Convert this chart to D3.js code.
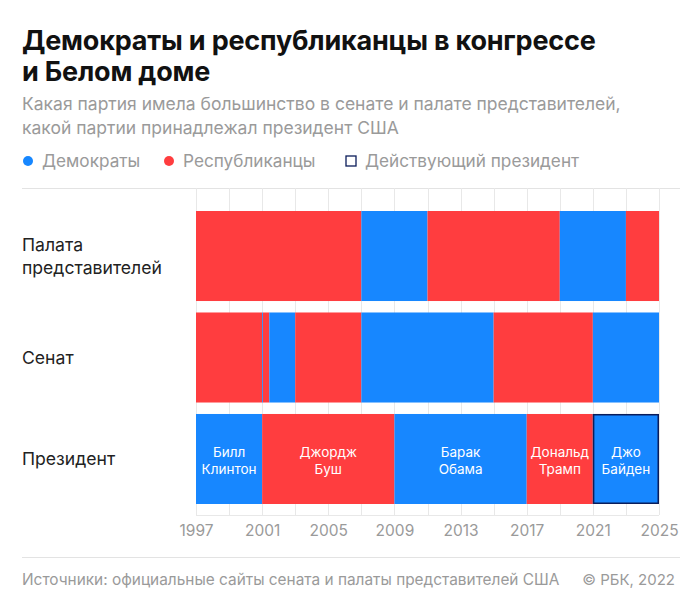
<!DOCTYPE html>
<html><head><meta charset="utf-8">
<script src="https://cdn.jsdelivr.net/npm/d3@7"></script>
<style>
body{margin:0;background:#fff;}
svg{display:block;font-family:Inter, "Noto Sans", sans-serif;}
</style></head>
<body><svg id="c" width="700" height="612"></svg>
<script>
const rows = ["Палата представителей", "Сенат", "Президент"];
const rowLabelLines = [["Палата", "представителей"], ["Сенат"], ["Президент"]];
const house = [
  {from:1997, to:2007, party:"R"},
  {from:2007, to:2011, party:"D"},
  {from:2011, to:2019, party:"R"},
  {from:2019, to:2023, party:"D"},
  {from:2023, to:2025, party:"R"}
];
const senate = [
  {from:1997, to:2001, party:"R"},
  {from:2001, to:2001.05, party:"D"},
  {from:2001.05, to:2001.43, party:"R"},
  {from:2001.43, to:2003, party:"D"},
  {from:2003, to:2007, party:"R"},
  {from:2007, to:2015, party:"D"},
  {from:2015, to:2021, party:"R"},
  {from:2021, to:2025, party:"D"}
];
const presidents = [
  {from:1997, to:2001, party:"D", name:["Билл","Клинтон"], current:false},
  {from:2001, to:2009, party:"R", name:["Джордж","Буш"], current:false},
  {from:2009, to:2017, party:"D", name:["Барак","Обама"], current:false},
  {from:2017, to:2021, party:"R", name:["Дональд","Трамп"], current:false},
  {from:2021, to:2025, party:"D", name:["Джо","Байден"], current:true}
];
const tickYears = [1997, 2001, 2005, 2009, 2013, 2017, 2021, 2025];
const gridYears = d3.range(1997, 2026, 2);
const legendItems = [
  {label:"Демократы", type:"D"},
  {label:"Республиканцы", type:"R"},
  {label:"Действующий президент", type:"current"}
];
const title = ["Демократы и республиканцы в конгрессе", "и Белом доме"];
const subtitle = ["Какая партия имела большинство в сенате и палате представителей,", "какой партии принадлежал президент США"];
const source = "Источники: официальные сайты сената и палаты представителей США";
const credit = "© РБК, 2022";

const colors = {D:"#1787FF", R:"#FF3D3F"};
const svg = d3.select("#c");
const grey = "#9a9a9a";

// Title
svg.append("text").attr("x",22).attr("y",50).attr("font-size",27).attr("font-weight",700)
  .attr("fill","#111").attr("letter-spacing","-0.2")
  .selectAll("tspan").data(title).join("tspan")
  .attr("x",22).attr("dy",(d,i)=>i?31:0).text(d=>d);
svg.append("text").attr("x",22).attr("y",110).attr("font-size",17.5)
  .attr("fill",grey)
  .selectAll("tspan").data(subtitle).join("tspan")
  .attr("x",22).attr("dy",(d,i)=>i?24:0).text(d=>d);

// Legend
const legX = [28, 169, 351];
const leg = svg.append("g");
legendItems.forEach((d,i)=>{
  const g = leg.append("g").attr("transform",`translate(${legX[i]},161)`);
  if(d.type==="current"){
    g.append("rect").attr("x",-5).attr("y",-5).attr("width",10).attr("height",10)
      .attr("fill","#fff").attr("stroke","#0b1d5a").attr("stroke-width",1.3);
  } else {
    g.append("circle").attr("r",5).attr("fill",colors[d.type]);
  }
  g.append("text").attr("x",14).attr("y",6).attr("font-size",17.2).attr("fill",grey).text(d.label);
});

// Scales
const x = d3.scaleLinear().domain([1997,2025]).range([196,659]);
const y = d3.scaleBand().domain(rows).range([211,504]).paddingInner(0.113).paddingOuter(0);

// top and bottom rules
svg.append("line").attr("x1",22).attr("x2",680).attr("y1",188.5).attr("y2",188.5).attr("stroke","#e3e3e3");
// grid
svg.append("g").selectAll("line").data(gridYears).join("line")
  .attr("x1",d=>Math.round(x(d))+0.5).attr("x2",d=>Math.round(x(d))+0.5)
  .attr("y1",188).attr("y2",515).attr("stroke","#e8e8e8");
svg.append("line").attr("x1",196).attr("x2",659).attr("y1",515.5).attr("y2",515.5).attr("stroke","#e8e8e8");

// Bars
const series = [house, senate, presidents];
series.forEach((data,ri)=>{
  svg.append("g").selectAll("rect").data(data).join("rect")
    .attr("x",d=>x(d.from)).attr("width",d=>x(d.to)-x(d.from))
    .attr("y",y(rows[ri])).attr("height",y.bandwidth())
    .attr("fill",d=>colors[d.party]);
});
// current president border
svg.append("g").selectAll("rect").data(presidents.filter(d=>d.current)).join("rect")
  .attr("x",d=>x(d.from)+0.75).attr("width",d=>x(d.to)-x(d.from)-1.5)
  .attr("y",y("Президент")+0.75).attr("height",y.bandwidth()-1.5)
  .attr("fill","none").attr("stroke","#0b1d5a").attr("stroke-width",1.5);
// president names
svg.append("g").selectAll("text").data(presidents).join("text")
  .attr("text-anchor","middle").attr("font-size",13.5).attr("fill","#fff")
  .attr("x",d=>(x(d.from)+x(d.to))/2).attr("y",y("Президент")+y.bandwidth()/2-2)
  .each(function(d){
    d3.select(this).selectAll("tspan").data(d.name).join("tspan")
      .attr("x",(x(d.from)+x(d.to))/2).attr("dy",(t,i)=>i?17:0).text(t=>t);
  });

// Row labels
rows.forEach((r,ri)=>{
  const lines = rowLabelLines[ri];
  const cy = y(r)+y.bandwidth()/2;
  const lh = 23;
  const y0 = cy - (lines.length-1)*lh/2 + 6;
  svg.append("text").attr("font-size",17.6).attr("fill","#222")
    .selectAll("tspan").data(lines).join("tspan")
    .attr("x",22).attr("y",(d,i)=>y0+i*lh).text(d=>d);
});

// Axis
const axis = d3.axisBottom(x).tickValues(tickYears).tickFormat(d3.format("d")).tickSize(0).tickPadding(0);
const ag = svg.append("g").attr("transform","translate(0,525)").call(axis);
ag.select(".domain").remove();
ag.selectAll("text").attr("font-size",15.5).attr("fill",grey).attr("font-family","Inter, 'Noto Sans', sans-serif").attr("dy","0.71em");

// Footer
svg.append("line").attr("x1",22).attr("x2",680).attr("y1",557.5).attr("y2",557.5).attr("stroke","#e3e3e3");
svg.append("text").attr("x",22).attr("y",585).attr("font-size",15.4).attr("fill",grey).text(source);
svg.append("text").attr("x",675).attr("y",585).attr("text-anchor","end").attr("font-size",15).attr("fill",grey).text(credit);
</script></body></html>
